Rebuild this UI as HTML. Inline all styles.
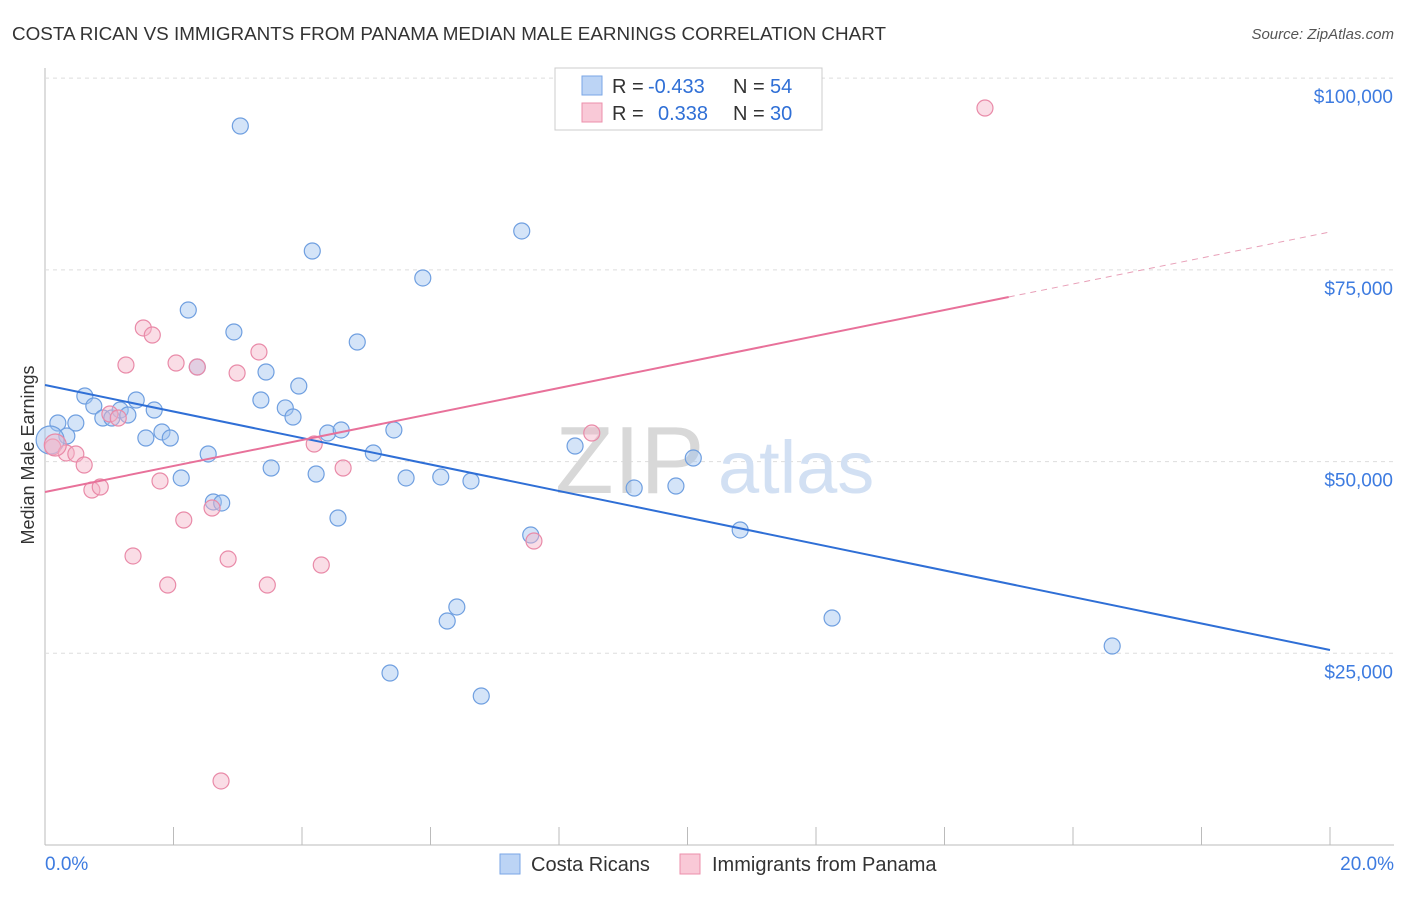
<!DOCTYPE html>
<html><head><meta charset="utf-8"><style>
body{margin:0;background:#fff;font-family:"Liberation Sans",sans-serif}
svg text{font-family:"Liberation Sans",sans-serif}
</style></head><body>
<svg id="chart" width="1406" height="892" viewBox="0 0 1406 892">
<text x="12" y="40" font-size="18" fill="#333" textLength="874" lengthAdjust="spacingAndGlyphs">COSTA RICAN VS IMMIGRANTS FROM PANAMA MEDIAN MALE EARNINGS CORRELATION CHART</text>
<text x="1394" y="39" font-size="15" fill="#555" text-anchor="end" font-style="italic">Source: ZipAtlas.com</text>
<text transform="translate(34,455) rotate(-90)" font-size="18" fill="#333" text-anchor="middle">Median Male Earnings</text>
<g id="grid"></g>
<g id="wm"><text x="555" y="493" font-size="96" fill="#d8d8d8" font-family="Liberation Serif">ZIP</text><text x="718" y="493" font-size="74" fill="#d2e0f3">atlas</text></g>
<g id="pts"></g>
<g id="lines"></g>
<g>
<rect x="555" y="68" width="267" height="62" fill="#fff" stroke="#ccc"/>
<rect x="582" y="76" width="20" height="19" fill="#bcd4f5" stroke="#7aa6e6"/>
<rect x="582" y="103" width="20" height="19" fill="#f9c9d7" stroke="#ec8fab"/>
<text x="612" y="93" font-size="20" fill="#333">R = <tspan x="648" fill="#2f6fd6">-0.433</tspan><tspan x="733">N = </tspan><tspan x="770" fill="#2f6fd6">54</tspan></text>
<text x="612" y="120" font-size="20" fill="#333">R = <tspan x="658" fill="#2f6fd6">0.338</tspan><tspan x="733">N = </tspan><tspan x="770" fill="#2f6fd6">30</tspan></text>
</g>
<g>
<rect x="500" y="854" width="20" height="20" fill="#bcd4f5" stroke="#7aa6e6"/>
<text x="531" y="871" font-size="20" fill="#333">Costa Ricans</text>
<rect x="680" y="854" width="20" height="20" fill="#f9c9d7" stroke="#ec8fab"/>
<text x="712" y="871" font-size="20" fill="#333">Immigrants from Panama</text>
</g>
</svg>
<script>
const yTicks=[25000,50000,75000,100000];
const xTickLabels=["0.0%","20.0%"];
const blueX=[0.20,0.34,0.48,0.62,0.76,0.90,1.04,1.17,1.29,1.42,1.57,1.70,1.82,1.95,2.12,2.23,2.37,2.54,2.62,2.75,2.94,3.04,3.36,3.44,3.52,3.74,3.86,3.95,4.16,4.22,4.40,4.56,4.61,4.86,5.11,5.37,5.43,5.62,5.88,6.16,6.26,6.41,6.63,6.79,7.42,7.56,8.25,9.17,9.82,10.09,10.82,12.25,16.61,0.08];
const blueY=[55030,53330,55030,58550,57250,55680,55680,56720,56070,58030,53070,56720,53860,53070,47860,69760,62330,50990,44730,44600,66900,93760,58030,61680,49160,56990,55810,59850,77460,48380,53720,42640,54120,65590,51120,22430,54120,47860,73940,47990,29210,31040,47470,19430,80070,40420,52030,46550,46810,50460,41080,29600,25950,52810];
const pinkX=[0.12,0.33,0.48,0.61,0.73,0.86,1.01,1.14,1.26,1.37,1.53,1.67,1.79,1.91,2.04,2.16,2.37,2.60,2.74,2.85,2.99,3.33,3.46,4.19,4.30,4.64,7.61,8.51,14.63,0.16];
const pinkY=[51900,51120,50990,49550,46290,46680,56200,55680,62590,37690,67420,66500,47470,33900,62850,42380,62330,43940,8350,37290,61550,64290,33900,52290,36510,49160,39640,53720,96100,52160];
const blueTrend=[59980,25430];
const pinkTrend=[46030,79940];
const NS="http://www.w3.org/2000/svg";
const X=v=>45+v*64.25, Y=v=>845-v/130.4;
function mk(t,a,p){const e=document.createElementNS(NS,t);for(const k in a)e.setAttribute(k,a[k]);p.appendChild(e);return e;}
const grid=document.getElementById('grid');
const ax=mk('line',{x1:45,y1:68,x2:45,y2:845,stroke:'#bbb'},grid);


const bx=mk('line',{x1:45,y1:845,x2:1394,y2:845,stroke:'#bbb'},grid);


yTicks.forEach(v=>{
 const g=mk('line',{x1:45,x2:1394,y1:Y(v),y2:Y(v),stroke:'#ddd','stroke-dasharray':'4,4'},grid);
 
 
 const t=mk('text',{x:1393,y:Y(v)+25,'font-size':19,fill:'#3d7be0','text-anchor':'end'},grid);
 t.textContent='$'+v.toLocaleString('en-US');
 
 
});
for(let i=1;i<=10;i++){const tk=mk('line',{x1:X(i*2),x2:X(i*2),y1:827,y2:845,stroke:'#bbb'},grid);
 
 }
xTickLabels.forEach((s,i)=>{const t=mk('text',{x:i?1394:45,y:870,'font-size':19,fill:'#3d7be0','text-anchor':i?'end':'start'},grid);t.textContent=s;
 
 });
const pts=document.getElementById('pts');
blueX.forEach((x,i)=>{const c=mk('circle',{cx:X(x),cy:Y(blueY[i]),r:i==blueX.length-1?14:8,fill:'rgba(160,195,240,0.45)',stroke:'#6f9fe0','stroke-width':1.2},pts);
 
 });
pinkX.forEach((x,i)=>{const c=mk('circle',{cx:X(x),cy:Y(pinkY[i]),r:i==pinkX.length-1?11:8,fill:'rgba(245,180,200,0.45)',stroke:'#e98aa8','stroke-width':1.2},pts);
 
 });
const L=document.getElementById('lines');
const bl=mk('line',{x1:X(0),y1:Y(blueTrend[0]),x2:X(20),y2:Y(blueTrend[1]),stroke:'#2f6fd6','stroke-width':2},L);


const pm=v=>pinkTrend[0]+(pinkTrend[1]-pinkTrend[0])*v/20;
const pl=mk('line',{x1:X(0),y1:Y(pm(0)),x2:X(15),y2:Y(pm(15)),stroke:'#e8719a','stroke-width':2},L);


const pd=mk('line',{x1:X(15),y1:Y(pm(15)),x2:X(20),y2:Y(pm(20)),stroke:'#e8a0b8','stroke-width':1,'stroke-dasharray':'6,5'},L);


</script>
</body></html>
